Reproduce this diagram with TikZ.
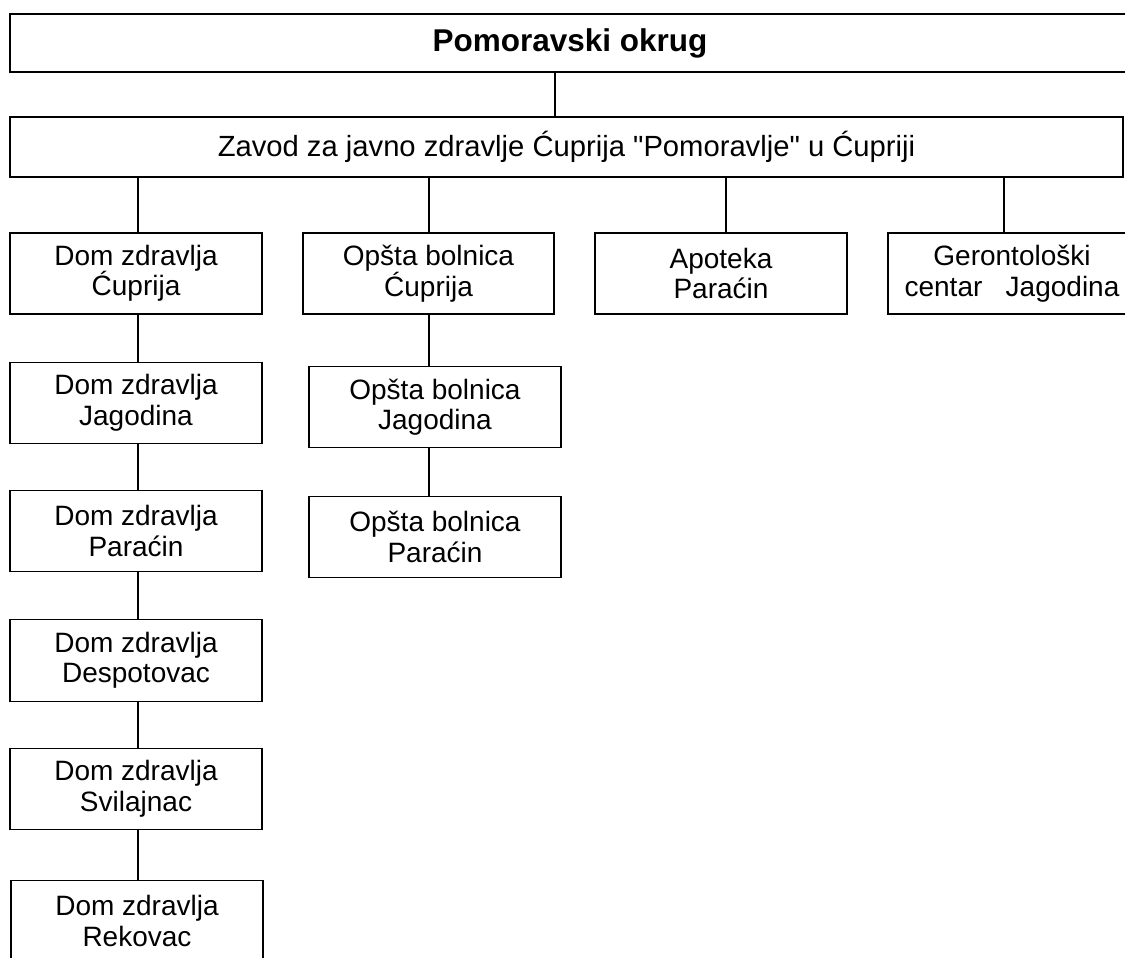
\documentclass[tikz,border=0pt]{standalone}
\usepackage{fontspec}
\setmainfont{Liberation Sans}
\begin{document}
\begin{tikzpicture}[x=1pt,y=-1pt,
  box/.style={draw, line width=1.6pt, inner sep=0pt, align=center,
    minimum width=251pt, minimum height=81pt,
    font=\fontsize{28}{30.5}\selectfont},
  link/.style={line width=1.6pt}]
\useasboundingbox (0,0) rectangle (1125,958);
% top levels
\node[box, minimum width=1120pt, minimum height=58pt,
  font=\fontsize{31.5}{34}\selectfont\bfseries] (top) at (570,43) {Pomoravski okrug};
\node[box, minimum width=1113pt, minimum height=60pt,
  font=\fontsize{29.2}{32}\selectfont] (zavod) at (566.5,147)
  {Zavod za javno zdravlje Ćuprija \textquotedbl Pomoravlje\textquotedbl\ u Ćupriji};
% first row
\node[box, minimum width=252pt] (dc) at (136,273.5) {Dom zdravlja\\Ćuprija};
\node[box] (oc) at (428.5,273.5) {Opšta bolnica\\Ćuprija};
\node[box, minimum width=252pt] (ap) at (721,273.5) {Apoteka\\Paraćin};
\node[box, minimum width=248pt] (ge) at (1012,273.5) {Gerontološki\\centar\ \ \ Jagodina};
% column 1
\node[box, minimum width=252pt] (dj) at (136,403) {Dom zdravlja\\Jagodina};
\node[box, minimum width=252pt] (dp) at (136,531) {Dom zdravlja\\Paraćin};
\node[box, minimum width=252pt, minimum height=82pt] (dd) at (136,660.5) {Dom zdravlja\\Despotovac};
\node[box, minimum width=252pt] (ds) at (136,789) {Dom zdravlja\\Svilajnac};
\node[box, minimum width=252pt] (dr) at (137,921) {Dom zdravlja\\Rekovac};
% column 2
\node[box, minimum width=252pt] (oj) at (435,407) {Opšta bolnica\\Jagodina};
\node[box, minimum width=252pt] (op) at (435,537) {Opšta bolnica\\Paraćin};
% connectors
\draw[link] ([xshift=-11.5pt]zavod.north) -- ([xshift=-11.5pt]zavod.north |- top.south);
\draw[link] ([xshift=2pt]dc.north) -- ([xshift=2pt]dc.north |- zavod.south);
\draw[link] ([xshift=0.5pt]oc.north) -- ([xshift=0.5pt]oc.north |- zavod.south);
\draw[link] ([xshift=5pt]ap.north) -- ([xshift=5pt]ap.north |- zavod.south);
\draw[link] ([xshift=-8pt]ge.north) -- ([xshift=-8pt]ge.north |- zavod.south);
\draw[link] ([xshift=2pt]dc.south) -- ([xshift=2pt]dc.south |- dj.north);
\draw[link] ([xshift=2pt]dj.south) -- ([xshift=2pt]dj.south |- dp.north);
\draw[link] ([xshift=2pt]dp.south) -- ([xshift=2pt]dp.south |- dd.north);
\draw[link] ([xshift=2pt]dd.south) -- ([xshift=2pt]dd.south |- ds.north);
\draw[link] ([xshift=2pt]ds.south) -- ([xshift=2pt]ds.south |- dr.north);
\draw[link] ([xshift=0.5pt]oc.south) -- ([xshift=0.5pt]oc.south |- oj.north);
\draw[link] ([xshift=0.5pt]oc.south |- oj.south) -- ([xshift=0.5pt]oc.south |- op.north);
\end{tikzpicture}
\end{document}
